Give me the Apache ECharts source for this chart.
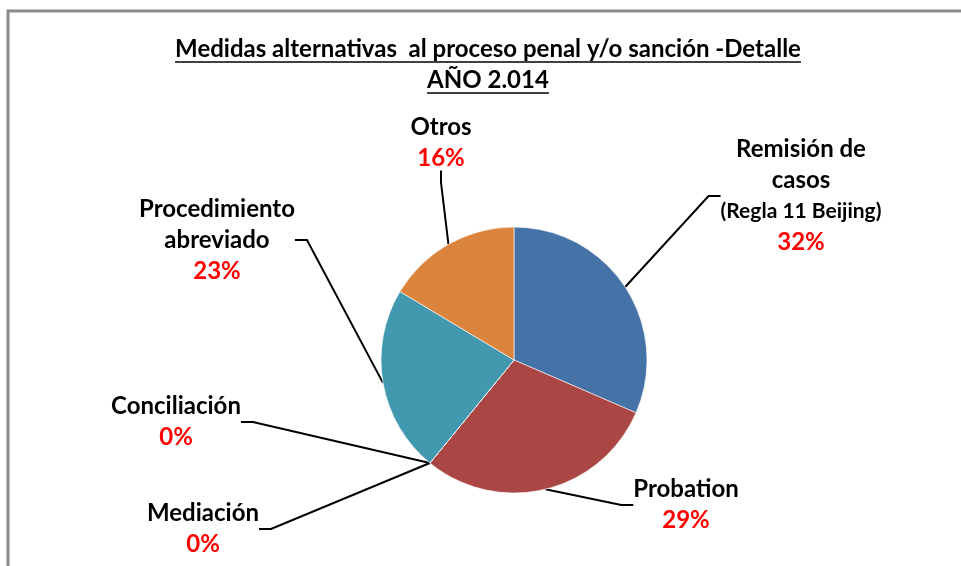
<!DOCTYPE html>
<html>
<head>
<meta charset="utf-8">
<script src="https://cdn.jsdelivr.net/npm/echarts@6/dist/echarts.min.js"></script>
<style>
  html, body { margin: 0; padding: 0; background: #fff; }
  #main { width: 961px; height: 566px; }
</style>
</head>
<body>
<div id="main"></div>
<script>
// data, clockwise from 12 o'clock
var categories = ['Remisión de\ncasos', 'Probation', 'Mediación', 'Conciliación', 'Procedimiento\nabreviado', 'Otros'];
var notes = ['(Regla 11 Beijing)', '', '', '', '', ''];
var values = [31.5, 29.4, 0, 0, 22.7, 16.4];
var colors = ['#4572A7', '#AA4643', '#7F9B47', '#6F5592', '#4198AF', '#DB843D'];
var titleLines = ['Medidas alternativas  al proceso penal y/o sanción -Detalle', 'AÑO 2.014'];

// where each label block sits (centre), Excel put them by hand
var labelCenters = [[801, 196], [686, 505], [203, 529], [176, 422], [217, 240], [441, 143]];

var FONT = 'Lato, "Open Sans", "Noto Sans", sans-serif';
var titleSize = 24;

var myChart = echarts.init(document.getElementById('main'));

// measure title so the underline fits it
var ctx = document.createElement('canvas').getContext('2d');
ctx.font = 'bold ' + titleSize + 'px ' + FONT;

var graphics = [{
	type: 'polyline',
	silent: true,
	shape: { points: [[8, 566], [8, 11], [961, 11]] },
	style: { stroke: '#8a8a8a', lineWidth: 3, fill: null }
}];
var titleY = [49, 80];
titleLines.forEach(function (t, i) {
	var w = ctx.measureText(t).width;
	graphics.push({
		type: 'text',
		x: 488, y: titleY[i],
		style: {
			text: t, font: 'bold ' + titleSize + 'px ' + FONT,
			fill: '#000', textAlign: 'center', textVerticalAlign: 'middle'
		}
	});
	graphics.push({
		type: 'line',
		shape: { x1: 488 - w / 2, y1: titleY[i] + 13, x2: 488 + w / 2, y2: titleY[i] + 13 },
		style: { stroke: '#000', lineWidth: 1.5 }
	});
});

var pieData = categories.map(function (c, i) {
	return { name: c, value: values[i], itemStyle: { color: colors[i] } };
});

var option = {
	animation: false,
	backgroundColor: '#fff',
	graphic: graphics,
	series: [{
		type: 'pie',
		center: [514, 360],
		radius: 133,
		startAngle: 90,
		clockwise: true,
		percentPrecision: 0,
		avoidLabelOverlap: false,
		data: pieData,
		itemStyle: { borderColor: 'rgba(255,255,255,0.6)', borderWidth: 1 },
		label: {
			show: true,
			position: 'outside',
			formatter: function (p) {
				var s = '{n|' + p.name + '}';
				if (notes[p.dataIndex]) s += '\n{s|' + notes[p.dataIndex] + '}';
				return s + '\n{p|' + p.percent + '%}';
			},
			rich: {
				n: { fontFamily: FONT, fontSize: 24, fontWeight: 'bold', color: '#000', lineHeight: 31, align: 'center' },
				s: { fontFamily: FONT, fontSize: 21, fontWeight: 'bold', color: '#000', lineHeight: 31, align: 'center' },
				p: { fontFamily: FONT, fontSize: 24, fontWeight: 'bold', color: '#FF0000', lineHeight: 31, align: 'center' }
			}
		},
		labelLine: {
			show: true,
			length: 15,
			length2: 12,
			smooth: false,
			lineStyle: { color: '#000', width: 2 }
		},
		labelLayout: function (params) {
			var p = labelCenters[params.dataIndex];
			return { x: p[0], y: p[1], align: 'center', verticalAlign: 'middle', hideOverlap: false };
		},
		emphasis: { disabled: true }
	}]
};

myChart.setOption(option);
window.onresize = myChart.resize;
</script>
</body>
</html>
